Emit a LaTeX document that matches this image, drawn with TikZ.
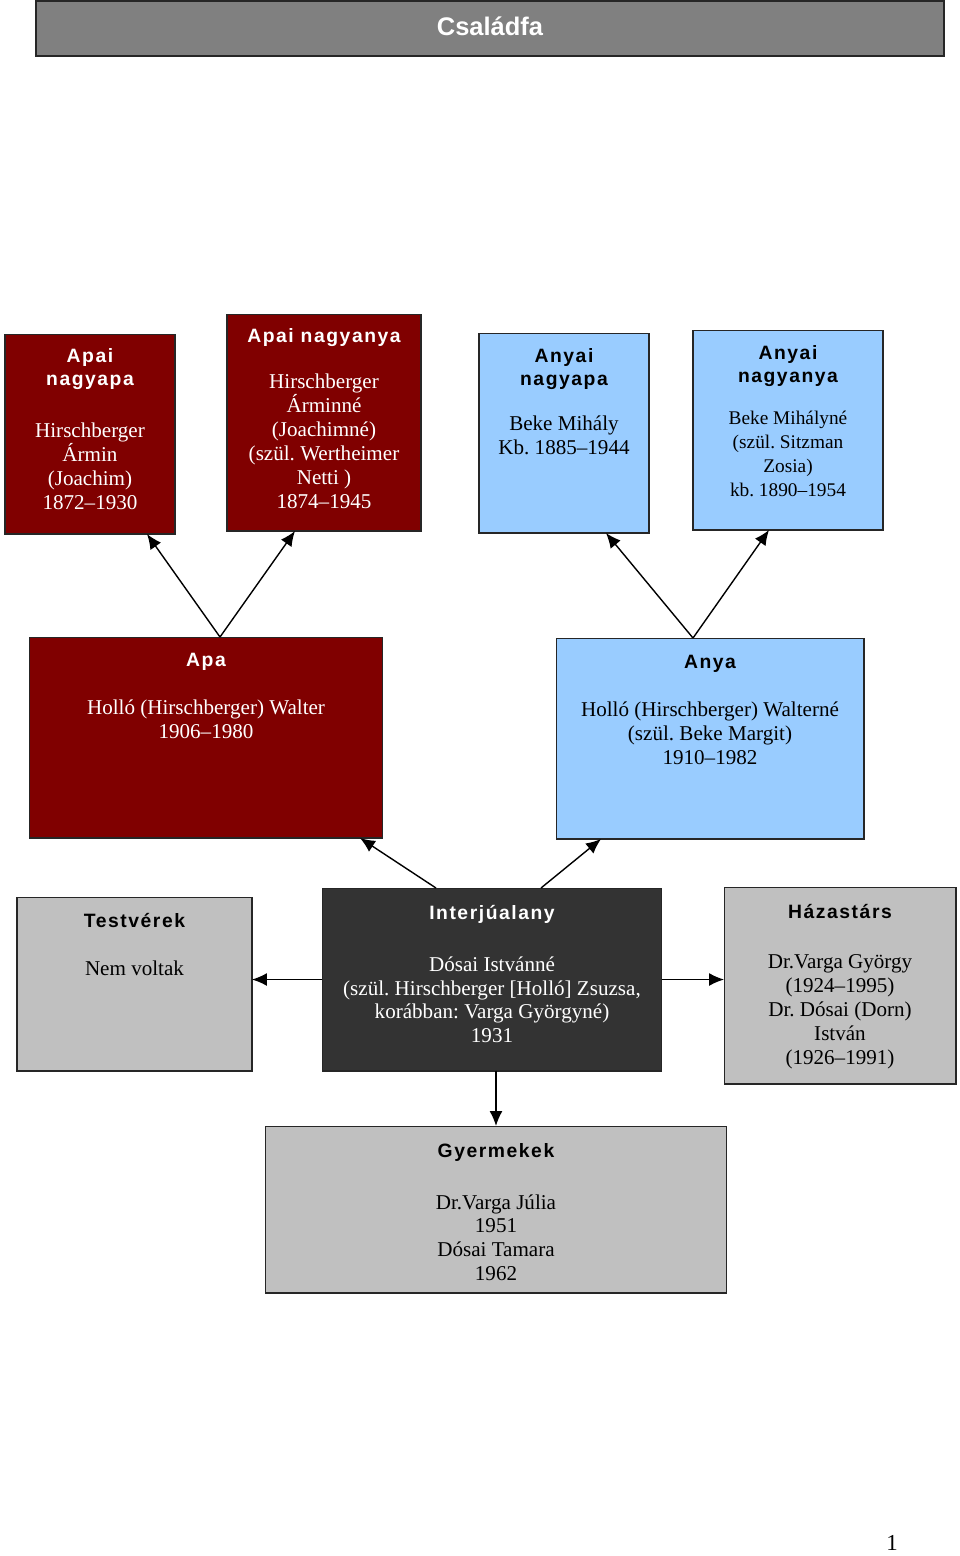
\documentclass[tikz,border=0pt]{standalone}
\usepackage{fontspec}
\setmainfont{Liberation Serif}
\newfontfamily\headfont[LetterSpace=8]{Liberation Sans}
\newfontfamily\titlefont{Liberation Sans}
\usetikzlibrary{positioning,arrows.meta}
\definecolor{apared}{HTML}{800000}
\definecolor{anyablue}{HTML}{99CCFF}
\definecolor{sidegray}{HTML}{C0C0C0}
\definecolor{selfdark}{HTML}{333333}
\definecolor{titlegray}{HTML}{808080}
\newcommand\hdtxt[1]{{\headfont\bfseries\fontsize{11}{13.6}\selectfont #1}}
\frenchspacing
\begin{document}
\begin{tikzpicture}[x=0.02cm,y=-0.02cm,
    every node/.append style={inner sep=0pt, outer sep=0pt},
    box/.style={draw=black!85, line width=0.6pt},
    txt/.style={align=center, font=\fontsize{12}{13.6}\selectfont},
    link/.style={-{Latex[length=3mm,width=2.6mm]}, line width=0.8pt}]
    \useasboundingbox (0,0) rectangle (960,1556);
    % title bar
    \node[box, fill=titlegray, line width=0.9pt, minimum width=18.16cm, minimum height=1.1cm]
          (title) at (490,28.5) {};
    \node[text=white, font=\titlefont\bfseries\fontsize{14.5}{16}\selectfont, yshift=0.05cm]
          (titletxt) at (title.center) {Családfa};
    % grandparents
    \node[box, fill=apared, minimum width=3.4cm, minimum height=4cm] (nagyapaA) at (90,434) {};
    \node[box, fill=apared, minimum width=3.88cm, minimum height=4.34cm] (nagyanyaA) at (324,422.5) {};
    \node[box, fill=anyablue, minimum width=3.4cm, minimum height=4cm] (nagyapaB) at (564,433) {};
    \node[box, fill=anyablue, minimum width=3.8cm, minimum height=4cm] (nagyanyaB) at (788,430) {};
    \node[txt, text=white, below=0.28cm of nagyapaA.north] (nagyapaAtxt)
        {\hdtxt{Apai}\\\hdtxt{nagyapa}\\[16pt]Hirschberger\\Ármin\\(Joachim)\\1872--1930};
    \node[txt, text=white, below=0.28cm of nagyanyaA.north] (nagyanyaAtxt)
        {\hdtxt{Apai nagyanya}\\[13pt]Hirschberger\\Árminné\\(Joachimné)\\(szül. Wertheimer\\Netti )\\1874--1945};
    \node[txt, below=0.3cm of nagyapaB.north] (nagyapaBtxt)
        {\hdtxt{Anyai}\\\hdtxt{nagyapa}\\[12pt]Beke Mihály\\Kb. 1885--1944};
    \node[txt, font=\fontsize{11}{13.6}\selectfont, below=0.3cm of nagyanyaB.north] (nagyanyaBtxt)
        {\hdtxt{Anyai}\\\hdtxt{nagyanya}\\[10pt]Beke Mihályné\\(szül. Sitzman\\Zosia)\\kb. 1890--1954};
    % parents
    \node[box, fill=apared, minimum width=7.08cm, minimum height=4.02cm] (apa) at (206,737.5) {};
    \node[box, fill=anyablue, minimum width=6.16cm, minimum height=4.02cm] (anya) at (710,738.5) {};
    \node[txt, text=white, below=0.32cm of apa.north] (apatxt)
        {\hdtxt{Apa}\\[14pt]Holló (Hirschberger) Walter\\1906--1980};
    \node[txt, below=0.34cm of anya.north] (anyatxt)
        {\hdtxt{Anya}\\[14pt]Holló (Hirschberger) Walterné\\(szül. Beke Margit)\\1910--1982};
    % interviewee row
    \node[box, fill=sidegray, minimum width=4.7cm, minimum height=3.48cm] (testverek) at (134.5,984) {};
    \node[box, fill=selfdark, minimum width=6.8cm, minimum height=3.66cm] (interju) at (492,979.5) {};
    \node[box, fill=sidegray, minimum width=4.64cm, minimum height=3.94cm] (hazastars) at (840,985.5) {};
    \node[txt, below=0.32cm of testverek.north] (testverektxt)
        {\hdtxt{Testvérek}\\[14pt]Nem voltak};
    \node[txt, text=white, below=0.34cm of interju.north] (interjutxt)
        {\hdtxt{Interjúalany}\\[16pt]Dósai Istvánné\\(szül. Hirschberger [Holló] Zsuzsa,\\korábban: Varga Györgyné)\\1931};
    \node[txt, below=0.34cm of hazastars.north] (hazastarstxt)
        {\hdtxt{Házastárs}\\[15pt]Dr.Varga György\\(1924--1995)\\Dr. Dósai (Dorn)\\István\\(1926--1991)};
    % children
    \node[box, fill=sidegray, minimum width=9.24cm, minimum height=3.34cm] (gyermekek) at (496,1209.5) {};
    \node[txt, below=0.34cm of gyermekek.north] (gyermekektxt)
        {\hdtxt{Gyermekek}\\[16pt]Dr.Varga Júlia\\1951\\Dósai Tamara\\1962};
    \node[font=\fontsize{13}{15}\selectfont] (pagenum) at (892,1543) {1};
    % arrows
    \draw[link] ([xshift=0.28cm]apa.north) -- ([xshift=1.14cm]nagyapaA.south);
    \draw[link] ([xshift=0.28cm]apa.north) -- ([xshift=-0.58cm]nagyanyaA.south);
    \draw[link] ([xshift=-0.34cm]anya.north) -- ([xshift=0.84cm]nagyapaB.south);
    \draw[link] ([xshift=-0.34cm]anya.north) -- ([xshift=-0.38cm]nagyanyaB.south);
    \draw[link] ([xshift=-1.12cm]interju.north) -- ([xshift=3.08cm]apa.south);
    \draw[link] ([xshift=0.98cm]interju.north) -- ([xshift=-2.18cm]anya.south);
    \draw[link] (interju.west) -- (interju.west -| testverek.east);
    \draw[link] (interju.east) -- (interju.east -| hazastars.west);
    \draw[link] ([xshift=0.08cm]interju.south) -- ([xshift=0.08cm]interju.south |- gyermekek.north);
\end{tikzpicture}
\end{document}
